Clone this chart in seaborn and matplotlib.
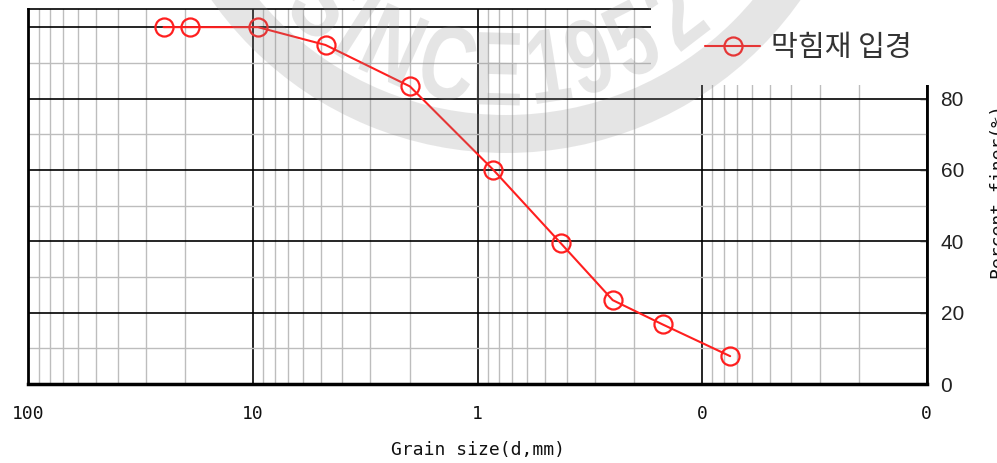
import numpy as np
import pandas as pd
import matplotlib
matplotlib.use("Agg")
import matplotlib.pyplot as plt
import matplotlib.transforms as mtransforms
from matplotlib import ticker, patches
from matplotlib.font_manager import FontProperties
from matplotlib.textpath import TextPath
import seaborn as sns

# Sieve analysis of the clogging material
grain_size_mm = [25.0, 19.0, 9.5, 4.75, 2.0, 0.85, 0.425, 0.25, 0.15, 0.075]
percent_finer = [100.0, 100.0, 100.0, 95.0, 83.4, 60.0, 39.4, 23.5, 16.7, 7.8]
series_name = "막힘재 입경"

x_ticks = [100, 10, 1, 0.1, 0.01]
x_tick_labels = ["100", "10", "1", "0", "0"]
y_ticks = [0, 20, 40, 60, 80, 100]
y_tick_labels = ["0", "20", "40", "60", "80", "100"]

df = pd.DataFrame({"size": grain_size_mm, "finer": percent_finer})

sns.set_style("white")
plt.rcParams["font.family"] = ["DejaVu Sans"]

W, H = 997, 463
fig = plt.figure(figsize=(W / 100, H / 100), dpi=100)
fig.patch.set_facecolor("white")

ax_left, ax_right, ax_top, ax_bottom = 28.3, 926.7, 9.3, 384.0
ax = fig.add_axes([ax_left / W, (H - ax_bottom) / H,
                   (ax_right - ax_left) / W, (ax_bottom - ax_top) / H])

red = "#ff1f1f"
sns.lineplot(data=df, x="size", y="finer", ax=ax, color=red, linewidth=1.5,
             marker="o", markersize=13, markerfacecolor="none",
             markeredgecolor=red, markeredgewidth=1.6, label=series_name,
             zorder=3)

ax.set_xscale("log")
ax.set_xlim(100, 0.01)
ax.set_ylim(0, 105)

ax.set_xticks(x_ticks)
ax.set_xticklabels(x_tick_labels)
ax.xaxis.set_minor_locator(ticker.LogLocator(base=10, subs=np.arange(2, 10), numticks=50))
ax.xaxis.set_minor_formatter(ticker.NullFormatter())

ax.set_yticks(y_ticks)
ax.set_yticklabels(y_tick_labels)
ax.yaxis.set_minor_locator(ticker.MultipleLocator(10))
ax.yaxis.tick_right()

ax.set_axisbelow(True)
ax.grid(which="major", color="black", linewidth=1.2)
ax.grid(which="minor", color="#bdbdbd", linewidth=1.0)

mono = "DejaVu Sans Mono"
ax.tick_params(axis="x", which="major", direction="in", length=5, width=1,
               pad=15, labelsize=13, labelcolor="#111111",
               labelfontfamily=mono)
ax.tick_params(axis="x", which="minor", length=0)
ax.tick_params(axis="y", which="major", direction="in", length=5, width=1,
               pad=10, labelsize=15, labelcolor="#222222",
               labelfontfamily="Liberation Sans",
               left=False, right=True, labelleft=False, labelright=True)
ax.tick_params(axis="y", which="minor", length=0)

ax.set_xlabel("Grain size(d,mm)", family=mono, fontsize=13, color="#111111",
              labelpad=13)
ax.set_ylabel("")

for side, lw in [("left", 2.0), ("bottom", 2.5), ("right", 2.0), ("top", 1.2)]:
    ax.spines[side].set_visible(True)
    ax.spines[side].set_color("black")
    ax.spines[side].set_linewidth(lw)

# white backing behind the legend, reaching past the axes corner
x0 = (651 - ax_left) / (ax_right - ax_left)
y0 = (ax_bottom - 85) / (ax_bottom - ax_top)
ax.add_patch(patches.Rectangle((x0, y0), 1.5, 1.0, transform=ax.transAxes,
                               facecolor="white", edgecolor="none",
                               clip_on=False, zorder=4.5))

leg = ax.legend(loc="center left", bbox_to_anchor=(705 / W, 1 - 48 / H),
                bbox_transform=fig.transFigure, frameon=False, borderpad=0,
                borderaxespad=0, handlelength=1.9, handletextpad=0.35,
                prop=FontProperties(family="Noto Sans CJK KR", size=21,
                                    weight="light"))
for t in leg.get_texts():
    t.set_color("#333333")

# right-hand axis title, running off the page edge
fig.text(989.5 / W, 1 - 192 / H, "Percent finer(%)", rotation=90,
         ha="left", va="center", family=mono, fontsize=13, color="#111111")

# faint "SINCE 1952" seal across the top (pixel coordinates, y downwards)
px = mtransforms.Affine2D().scale(1 / W, -1 / H).translate(0, 1) + fig.transFigure
cx, cy = 506.0, -207.0
seal = (0.55, 0.55, 0.55)
seal_alpha = 0.22
fig.add_artist(patches.Wedge((cx, cy), 360, 0, 360, width=38, transform=px,
                             facecolor=seal, edgecolor="none",
                             alpha=seal_alpha, zorder=10))
seal_font = FontProperties(family="Liberation Sans", weight="bold")
letters = ["S", "I", "N", "C", "E", "1", "9", "5", "2"]
angles = [131, 122.5, 114, 102, 91.5, 81, 72.5, 63, 52.5]
r_base = 312.0
for ch, th in zip(letters, angles):
    tp = TextPath((0, 0), ch, size=105, prop=seal_font)
    bb = tp.get_extents()
    t = np.deg2rad(th)
    tr = (mtransforms.Affine2D()
          .translate(-(bb.x0 + bb.x1) / 2, 0)
          .scale(0.74, -1)
          .rotate_deg(th - 90)
          .translate(cx + r_base * np.cos(t), cy + r_base * np.sin(t))) + px
    fig.add_artist(patches.PathPatch(tp, transform=tr, facecolor=seal,
                                     edgecolor="none", alpha=seal_alpha,
                                     zorder=10))

fig.savefig("out.png", dpi=100, facecolor="white")
